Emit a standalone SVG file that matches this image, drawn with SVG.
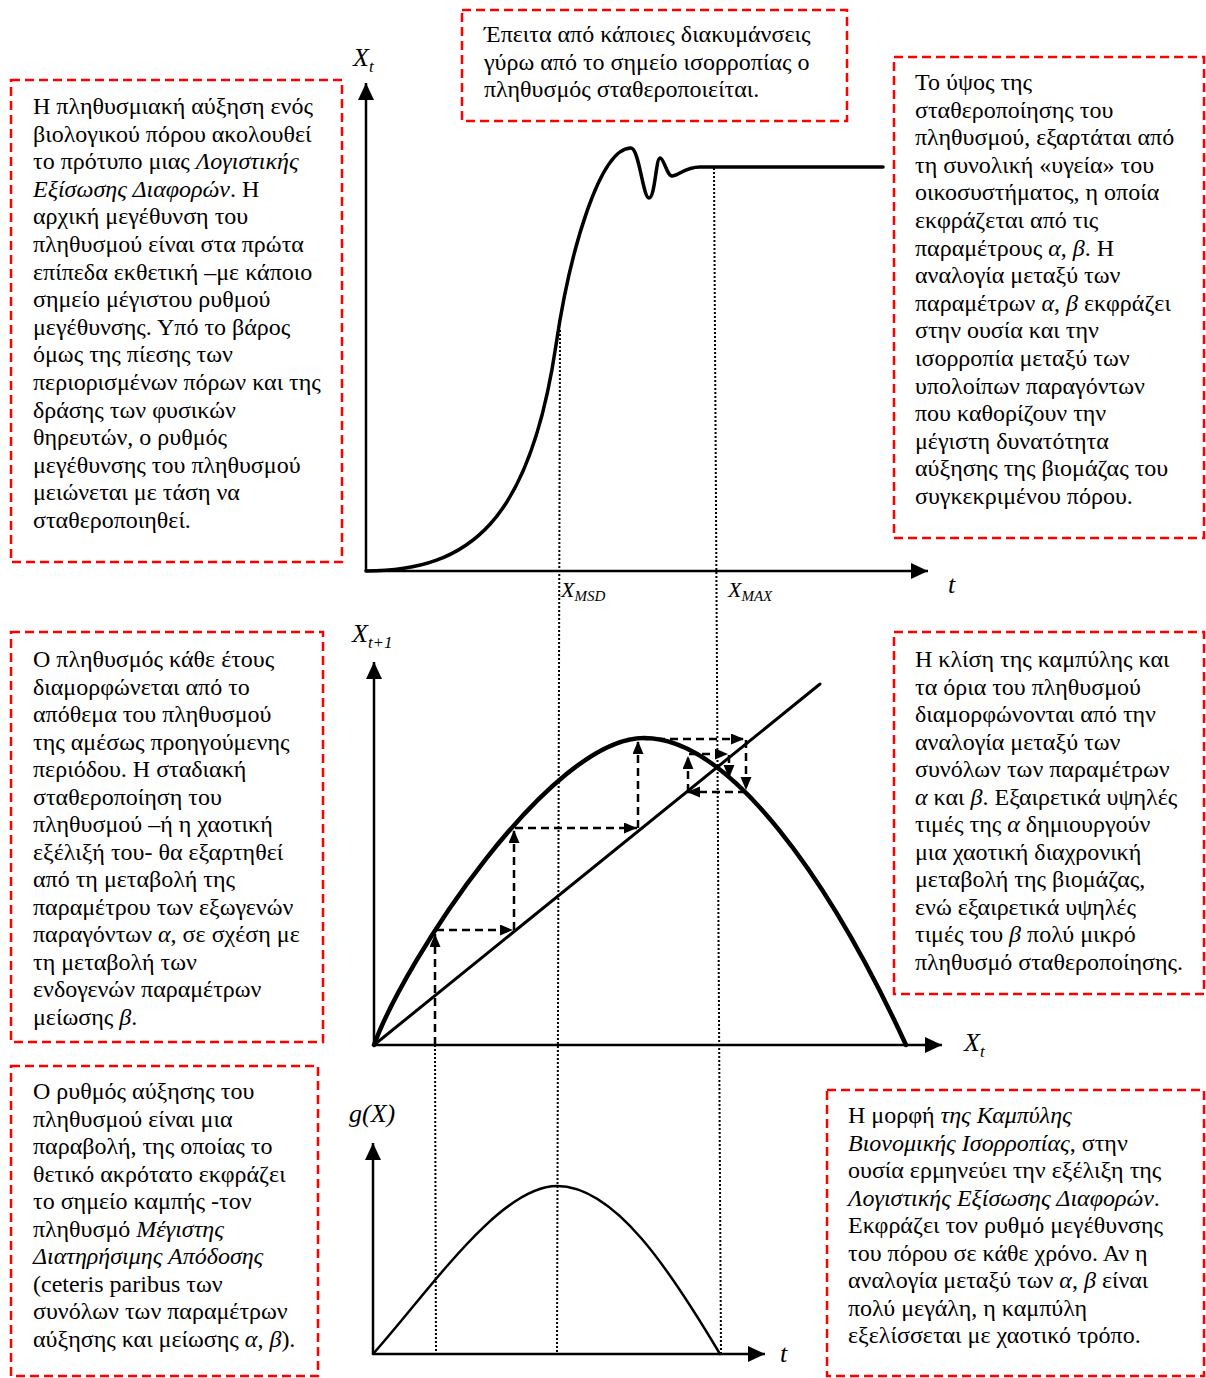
<svg xmlns="http://www.w3.org/2000/svg" width="1206" height="1378" viewBox="0 0 1206 1378">
  <style>
    .box { fill: none; stroke: #ff0000; stroke-width: 2.5; stroke-dasharray: 9 5; }
    .txt { font-family: "Liberation Serif", "Times New Roman", serif; font-size: 24px; fill: #000; }
    .it { font-style: italic; }
    .lbl { font-family: "Liberation Serif", "Times New Roman", serif; font-style: italic; fill: #000; }
    .axis { fill: none; stroke: #000; stroke-width: 2.5; }
    .curve { fill: none; stroke: #000; stroke-linecap: round; stroke-linejoin: round; }
    .dot { fill: none; stroke: #000; stroke-width: 2; stroke-dasharray: 2 2; }
    .web { fill: none; stroke: #000; stroke-width: 2.5; stroke-dasharray: 8 5; }
  </style>
  <defs>
    <marker id="axisHead" markerUnits="userSpaceOnUse" markerWidth="18" markerHeight="16" refX="17" refY="8" orient="auto">
      <path d="M0,0 L17,8 L0,16 z" fill="#000"/>
    </marker>
    <marker id="webHead" markerUnits="userSpaceOnUse" markerWidth="14" markerHeight="12" refX="13" refY="5.5" orient="auto">
      <path d="M0,0 L13,5.5 L0,11 z" fill="#000"/>
    </marker>
  </defs>

  <!-- Top chart: logistic growth X_t over time -->
  <g id="chart-logistic">
    <path class="axis" d="M366,571 V83" marker-end="url(#axisHead)"/>
    <path class="axis" d="M366,571 H928" marker-end="url(#axisHead)"/>
    <path class="curve" stroke-width="3.5" d="M366,571 C470,571 530,521 556,345 C570,250 600,148 631,148 C639,148 643,198 649,198 C655,198 656,158 660,158 C664,158 667,176 672,176 C678,176 685,167 700,167 L883,167"/>
    <text class="lbl" x="353" y="66" font-size="26">X<tspan font-size="17" dy="6">t</tspan></text>
    <text class="lbl" x="948" y="593" font-size="26">t</text>
    <text class="lbl" x="561" y="597" font-size="22">X<tspan font-size="15" dy="4">MSD</tspan></text>
    <text class="lbl" x="728" y="597" font-size="22">X<tspan font-size="15" dy="4">MAX</tspan></text>
  </g>

  <!-- Middle chart: X_t+1 against X_t with cobweb iteration -->
  <g id="chart-cobweb">
    <path class="axis" d="M374,1045 V662" marker-end="url(#axisHead)"/>
    <path class="axis" d="M374,1045 H942" marker-end="url(#axisHead)"/>
    <path class="curve" stroke-width="3" d="M374,1045 L820,684"/>
    <path class="curve" stroke-width="4.5" d="M374,1045 C405,960 550,738 644,738 C730,738 830,880 906,1045"/>
    <text class="lbl" x="352" y="642" font-size="26">X<tspan font-size="17" dy="6">t+1</tspan></text>
    <text class="lbl" x="964" y="1051" font-size="26">X<tspan font-size="17" dy="6">t</tspan></text>
  </g>

  <!-- Bottom chart: growth rate g(X) -->
  <g id="chart-growth">
    <path class="axis" d="M373,1354 V1143" marker-end="url(#axisHead)"/>
    <path class="axis" d="M373,1354 H765" marker-end="url(#axisHead)"/>
    <path class="curve" stroke-width="2.5" d="M373,1354 C430,1290 500,1186 557,1186 C615,1186 670,1270 720,1354"/>
    <text class="lbl" x="349" y="1122" font-size="26">g(X)</text>
    <text class="lbl" x="780" y="1362" font-size="26">t</text>
  </g>

  <!-- Connectors: guide lines and cobweb steps -->
  <g id="connectors">
    <path class="dot" d="M560,330 L557,1354"/>
    <path class="dot" d="M714,168 L721,1354"/>
    <path class="dot" d="M435,1045 L436,1354"/>
    <path class="web" d="M435,1045 V934" marker-end="url(#webHead)"/>
    <path class="web" d="M436,930 H513" marker-end="url(#webHead)"/>
    <path class="web" d="M514,930 V830" marker-end="url(#webHead)"/>
    <path class="web" d="M515,828 H637" marker-end="url(#webHead)"/>
    <path class="web" d="M638,828 V741" marker-end="url(#webHead)"/>
    <path class="web" d="M644,739 H744" marker-end="url(#webHead)"/>
    <path class="web" d="M746,740 V790" marker-end="url(#webHead)"/>
    <path class="web" d="M746,792 H687" marker-end="url(#webHead)"/>
    <path class="web" d="M688,792 V756" marker-end="url(#webHead)"/>
    <path class="web" d="M689,754 H728" marker-end="url(#webHead)"/>
    <path class="web" d="M729,755 V778" marker-end="url(#webHead)"/>
  </g>

  <!-- Annotation boxes -->
  <g id="note-logistic">
    <rect class="box" x="11" y="80" width="331" height="482"/>
    <text class="txt">
      <tspan x="33" y="114">Η πληθυσμιακή αύξηση ενός</tspan>
      <tspan x="33" y="141.6">βιολογικού πόρου ακολουθεί</tspan>
      <tspan x="33" y="169.2">το πρότυπο μιας <tspan class="it">Λογιστικής</tspan></tspan>
      <tspan x="33" y="196.8"><tspan class="it">Εξίσωσης Διαφορών</tspan>. Η</tspan>
      <tspan x="33" y="224.4">αρχική μεγέθυνση του</tspan>
      <tspan x="33" y="252">πληθυσμού είναι στα πρώτα</tspan>
      <tspan x="33" y="279.6">επίπεδα εκθετική –με κάποιο</tspan>
      <tspan x="33" y="307.2">σημείο μέγιστου ρυθμού</tspan>
      <tspan x="33" y="334.8">μεγέθυνσης. Υπό το βάρος</tspan>
      <tspan x="33" y="362.4">όμως της πίεσης των</tspan>
      <tspan x="33" y="390">περιορισμένων πόρων και της</tspan>
      <tspan x="33" y="417.6">δράσης των φυσικών</tspan>
      <tspan x="33" y="445.2">θηρευτών, ο ρυθμός</tspan>
      <tspan x="33" y="472.8">μεγέθυνσης του πληθυσμού</tspan>
      <tspan x="33" y="500.4">μειώνεται με τάση να</tspan>
      <tspan x="33" y="528">σταθεροποιηθεί.</tspan>
    </text>
  </g>

  <g id="note-fluctuation">
    <rect class="box" x="462" y="10" width="385" height="111"/>
    <text class="txt">
      <tspan x="484" y="42">Έπειτα από κάποιες διακυμάνσεις</tspan>
      <tspan x="484" y="69.6">γύρω από το σημείο ισορροπίας ο</tspan>
      <tspan x="484" y="97.2">πληθυσμός σταθεροποιείται.</tspan>
    </text>
  </g>

  <g id="note-stabilisation">
    <rect class="box" x="894" y="57" width="310" height="481"/>
    <text class="txt">
      <tspan x="915" y="90">Το ύψος της</tspan>
      <tspan x="915" y="117.6">σταθεροποίησης του</tspan>
      <tspan x="915" y="145.2">πληθυσμού, εξαρτάται από</tspan>
      <tspan x="915" y="172.8">τη συνολική «υγεία» του</tspan>
      <tspan x="915" y="200.4">οικοσυστήματος, η οποία</tspan>
      <tspan x="915" y="228">εκφράζεται από τις</tspan>
      <tspan x="915" y="255.6">παραμέτρους <tspan class="it">α</tspan>, <tspan class="it">β</tspan>. Η</tspan>
      <tspan x="915" y="283.2">αναλογία μεταξύ των</tspan>
      <tspan x="915" y="310.8">παραμέτρων <tspan class="it">α</tspan>, <tspan class="it">β</tspan> εκφράζει</tspan>
      <tspan x="915" y="338.4">στην ουσία και την</tspan>
      <tspan x="915" y="366">ισορροπία μεταξύ των</tspan>
      <tspan x="915" y="393.6">υπολοίπων παραγόντων</tspan>
      <tspan x="915" y="421.2">που καθορίζουν την</tspan>
      <tspan x="915" y="448.8">μέγιστη δυνατότητα</tspan>
      <tspan x="915" y="476.4">αύξησης της βιομάζας του</tspan>
      <tspan x="915" y="504">συγκεκριμένου πόρου.</tspan>
    </text>
  </g>

  <g id="note-cobweb">
    <rect class="box" x="11" y="632" width="312" height="410"/>
    <text class="txt">
      <tspan x="33" y="667">Ο πληθυσμός κάθε έτους</tspan>
      <tspan x="33" y="694.5">διαμορφώνεται από το</tspan>
      <tspan x="33" y="722">απόθεμα του πληθυσμού</tspan>
      <tspan x="33" y="749.5">της αμέσως προηγούμενης</tspan>
      <tspan x="33" y="777">περιόδου. Η σταδιακή</tspan>
      <tspan x="33" y="804.5">σταθεροποίηση του</tspan>
      <tspan x="33" y="832">πληθυσμού –ή η χαοτική</tspan>
      <tspan x="33" y="859.5">εξέλιξή του- θα εξαρτηθεί</tspan>
      <tspan x="33" y="887">από τη μεταβολή της</tspan>
      <tspan x="33" y="914.5">παραμέτρου των εξωγενών</tspan>
      <tspan x="33" y="942">παραγόντων <tspan class="it">α</tspan>, σε σχέση με</tspan>
      <tspan x="33" y="969.5">τη μεταβολή των</tspan>
      <tspan x="33" y="997">ενδογενών παραμέτρων</tspan>
      <tspan x="33" y="1024.5">μείωσης <tspan class="it">β</tspan>.</tspan>
    </text>
  </g>

  <g id="note-slope">
    <rect class="box" x="894" y="632" width="310" height="362"/>
    <text class="txt">
      <tspan x="915" y="667">Η κλίση της καμπύλης και</tspan>
      <tspan x="915" y="694.5">τα όρια του πληθυσμού</tspan>
      <tspan x="915" y="722">διαμορφώνονται από την</tspan>
      <tspan x="915" y="749.5">αναλογία μεταξύ των</tspan>
      <tspan x="915" y="777">συνόλων των παραμέτρων</tspan>
      <tspan x="915" y="804.5"><tspan class="it">α</tspan> και <tspan class="it">β</tspan>. Εξαιρετικά υψηλές</tspan>
      <tspan x="915" y="832">τιμές της <tspan class="it">α</tspan> δημιουργούν</tspan>
      <tspan x="915" y="859.5">μια χαοτική διαχρονική</tspan>
      <tspan x="915" y="887">μεταβολή της βιομάζας,</tspan>
      <tspan x="915" y="914.5">ενώ εξαιρετικά υψηλές</tspan>
      <tspan x="915" y="942">τιμές του <tspan class="it">β</tspan> πολύ μικρό</tspan>
      <tspan x="915" y="969.5">πληθυσμό σταθεροποίησης.</tspan>
    </text>
  </g>

  <g id="note-parabola">
    <rect class="box" x="11" y="1066" width="307" height="310"/>
    <text class="txt">
      <tspan x="33" y="1099">Ο ρυθμός αύξησης του</tspan>
      <tspan x="33" y="1126.5">πληθυσμού είναι μια</tspan>
      <tspan x="33" y="1154">παραβολή, της οποίας το</tspan>
      <tspan x="33" y="1181.5">θετικό ακρότατο εκφράζει</tspan>
      <tspan x="33" y="1209">το σημείο καμπής -τον</tspan>
      <tspan x="33" y="1236.5">πληθυσμό <tspan class="it">Μέγιστης</tspan></tspan>
      <tspan x="33" y="1264" class="it">Διατηρήσιμης Απόδοσης</tspan>
      <tspan x="33" y="1291.5">(ceteris paribus των</tspan>
      <tspan x="33" y="1319">συνόλων των παραμέτρων</tspan>
      <tspan x="33" y="1346.5">αύξησης και μείωσης <tspan class="it">α</tspan>, <tspan class="it">β</tspan>).</tspan>
    </text>
  </g>

  <g id="note-bionomic">
    <rect class="box" x="827" y="1090" width="377" height="286"/>
    <text class="txt">
      <tspan x="848" y="1123">Η μορφή <tspan class="it">της Καμπύλης</tspan></tspan>
      <tspan x="848" y="1150.5"><tspan class="it">Βιονομικής Ισορροπίας</tspan>, στην</tspan>
      <tspan x="848" y="1178">ουσία ερμηνεύει την εξέλιξη της</tspan>
      <tspan x="848" y="1205.5"><tspan class="it">Λογιστικής Εξίσωσης Διαφορών</tspan>.</tspan>
      <tspan x="848" y="1233">Εκφράζει τον ρυθμό μεγέθυνσης</tspan>
      <tspan x="848" y="1260.5">του πόρου σε κάθε χρόνο. Αν η</tspan>
      <tspan x="848" y="1288">αναλογία μεταξύ των <tspan class="it">α</tspan>, <tspan class="it">β</tspan> είναι</tspan>
      <tspan x="848" y="1315.5">πολύ μεγάλη, η καμπύλη</tspan>
      <tspan x="848" y="1343">εξελίσσεται με χαοτικό τρόπο.</tspan>
    </text>
  </g>
</svg>
